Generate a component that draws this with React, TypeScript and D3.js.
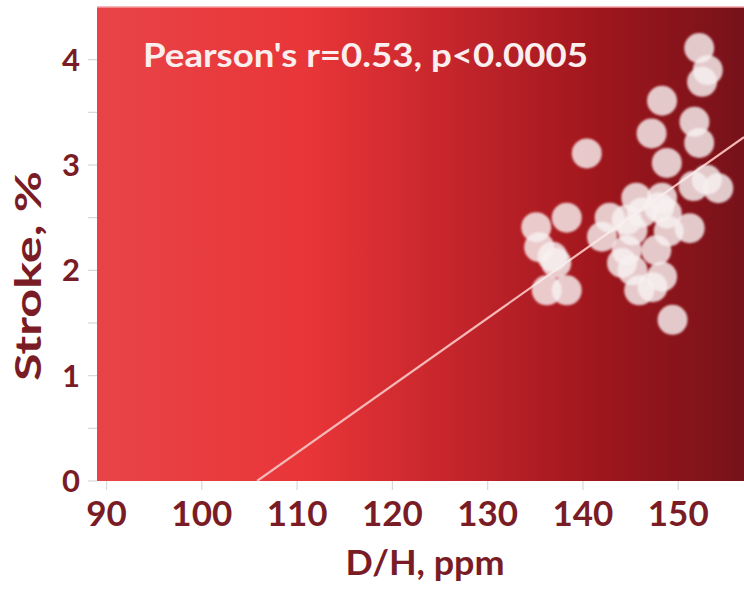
import React, { useEffect, useRef } from 'react';
import * as d3 from 'd3';

// D/H (ppm) and stroke (%)
const dh = [152.2, 153.1, 152.5, 148.3, 147.2, 151.7, 152.2, 140.4, 148.8, 151.6, 153.0, 154.2,
  145.6, 148.3, 142.8, 144.6, 148.0, 148.8, 151.2, 142.0, 145.2, 147.7, 144.6, 144.1, 145.2,
  145.9, 148.3, 147.3, 149.4, 135.1, 138.3, 135.4, 136.8, 137.2, 136.2, 138.3, 149.0, 146.2];
const stroke = [4.11, 3.90, 3.79, 3.61, 3.30, 3.41, 3.21, 3.11, 3.02, 2.80, 2.86, 2.78,
  2.69, 2.69, 2.50, 2.48, 2.60, 2.54, 2.40, 2.32, 2.38, 2.19, 2.19, 2.07, 2.00,
  1.81, 1.94, 1.84, 1.53, 2.41, 2.50, 2.22, 2.13, 2.07, 1.81, 1.81, 2.37, 2.55];

const xTicks = [90, 100, 110, 120, 130, 140, 150];
const yTicks = [0, 1, 2, 3, 4];
const yMinor = [0.5, 1.5, 2.5, 3.5];

// fitted line: stroke = slope * (dh - x0)
const fitX0 = 105.8;
const fitSlope = 0.0639;

const label = "Pearson's r=0.53, p<0.0005";

export default function App() {
  const ref = useRef<SVGSVGElement>(null);

  useEffect(() => {
    const w = 744, h = 593;
    const left = 97, right = 744, top = 7, bottom = 481;
    const font = 'Lato, "Open Sans", sans-serif';
    const dark = '#7a1c26';

    const svg = d3.select(ref.current);
    svg.selectAll('*').remove();
    svg.attr('width', w).attr('height', h);

    const x = d3.scaleLinear().domain([89, 156.9]).range([left, right]);
    const y = d3.scaleLinear().domain([0, 4.5]).range([bottom, top]);

    const defs = svg.append('defs');
    const grad = defs.append('linearGradient').attr('id', 'bg')
      .attr('x1', '0%').attr('x2', '100%').attr('y1', '0%').attr('y2', '0%');
    [['0%', '#e84448'], ['33%', '#e83538'], ['58%', '#c0232a'], ['78%', '#9e161c'], ['100%', '#76121a']]
      .forEach(([o, c]) => grad.append('stop').attr('offset', o).attr('stop-color', c));
    defs.append('filter').attr('id', 'soft')
      .append('feGaussianBlur').attr('stdDeviation', 0.9);
    defs.append('clipPath').attr('id', 'plot')
      .append('rect').attr('x', left).attr('y', top).attr('width', right - left).attr('height', bottom - top);

    svg.append('rect').attr('x', left).attr('y', top)
      .attr('width', right - left).attr('height', bottom - top)
      .attr('fill', 'url(#bg)');
    svg.append('line').attr('x1', left).attr('x2', right).attr('y1', top).attr('y2', top)
      .attr('stroke', '#f3a0a4').attr('stroke-width', 1.5);

    // ticks
    const g = svg.append('g');
    g.selectAll('.yt').data(yTicks.concat(yMinor)).enter().append('line')
      .attr('x1', left - 9).attr('x2', left).attr('y1', d => y(d)).attr('y2', d => y(d))
      .attr('stroke', '#d8d8d8').attr('stroke-width', 1.2);
    g.selectAll('.xt').data(xTicks).enter().append('line')
      .attr('x1', d => x(d)).attr('x2', d => x(d)).attr('y1', bottom).attr('y2', bottom + 9)
      .attr('stroke', '#d8d8d8').attr('stroke-width', 1.2);

    g.selectAll('.yl').data(yTicks).enter().append('text')
      .attr('x', 80).attr('y', d => y(d) + 11)
      .attr('text-anchor', 'end').attr('font-family', font).attr('font-weight', 700)
      .attr('font-size', 31).attr('fill', dark).text(d => d);
    g.selectAll('.xl').data(xTicks).enter().append('text')
      .attr('x', d => x(d)).attr('y', 526)
      .attr('text-anchor', 'middle').attr('font-family', font).attr('font-weight', 700)
      .attr('font-size', 35).attr('fill', dark).text(d => d);

    svg.append('text').attr('x', 425).attr('y', 575)
      .attr('text-anchor', 'middle').attr('font-family', font).attr('font-weight', 700)
      .attr('font-size', 35).attr('fill', dark)
      .attr('textLength', 159).attr('lengthAdjust', 'spacingAndGlyphs').text('D/H, ppm');
    svg.append('text').attr('transform', 'translate(41,276) rotate(-90)')
      .attr('text-anchor', 'middle').attr('font-family', font).attr('font-weight', 700)
      .attr('font-size', 36).attr('fill', dark)
      .attr('textLength', 210).attr('lengthAdjust', 'spacingAndGlyphs').text('Stroke, %');

    const plot = svg.append('g').attr('clip-path', 'url(#plot)');

    const x2 = 156.9;
    plot.append('line')
      .attr('x1', x(fitX0)).attr('y1', y(0))
      .attr('x2', x(x2)).attr('y2', y(fitSlope * (x2 - fitX0)))
      .attr('stroke', '#f4b8b6').attr('stroke-width', 2.2);

    plot.append('g').attr('filter', 'url(#soft)')
      .selectAll('circle').data(dh.map((d, i) => [d, stroke[i]])).enter().append('circle')
      .attr('cx', d => x(d[0])).attr('cy', d => y(d[1])).attr('r', 15)
      .attr('fill', '#f8f0f0').attr('fill-opacity', 0.82);

    svg.append('text').attr('x', 143).attr('y', 67)
      .attr('font-family', font).attr('font-weight', 700)
      .attr('font-size', 32).attr('fill', '#fbeeee')
      .attr('textLength', 445).attr('lengthAdjust', 'spacingAndGlyphs').text(label);
  }, []);

  return (
    <div>
      <svg ref={ref} style={{ position: 'absolute', left: 0, top: 0 }}></svg>
    </div>
  );
}
